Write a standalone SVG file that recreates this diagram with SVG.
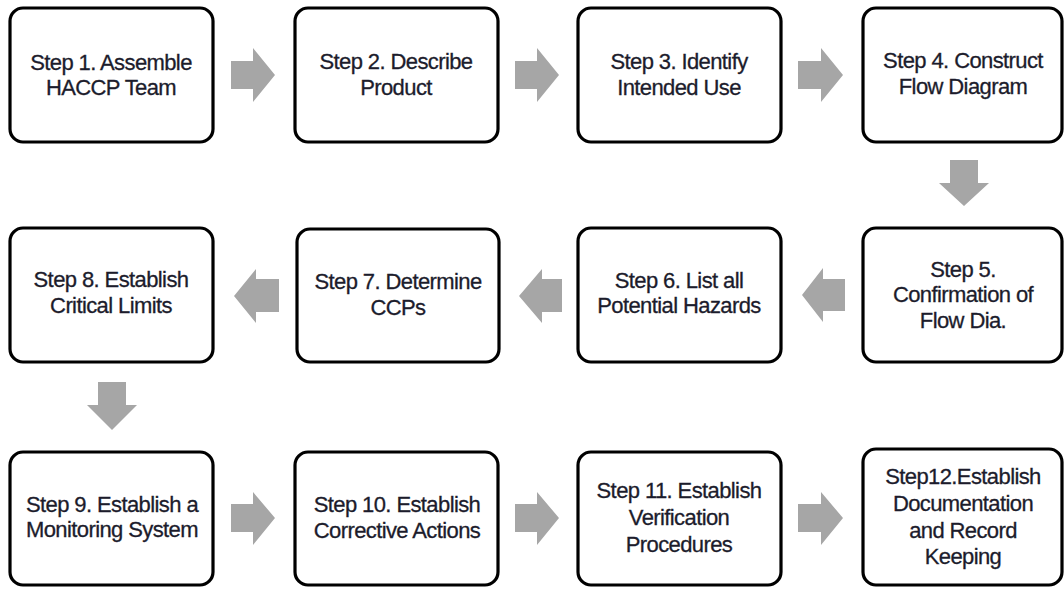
<svg xmlns="http://www.w3.org/2000/svg" width="1064" height="589" viewBox="0 0 1064 589">
<style>
.box{fill:#fff;stroke:#000;stroke-width:3.2}
.lbl{font-family:"Liberation Sans",Arial,sans-serif;font-size:22px;fill:#1c1c2c;stroke:#1c1c2c;stroke-width:0.3;text-anchor:middle;letter-spacing:-0.6px}
.arr{fill:#a6a6a6}
</style>
<rect width="1064" height="589" fill="#fff"/>
<g id="connectors">
<polygon class="arr" points="231,61 253,61 253,48 275,75 253,102 253,89 231,89"/>
<polygon class="arr" points="515,61 537,61 537,48 559,75 537,102 537,89 515,89"/>
<polygon class="arr" points="798,61 821,61 821,48 843,75 821,102 821,89 798,89"/>
<polygon class="arr" points="950,160 978,160 978,183 989,183 964,206 939,183 950,183"/>
<polygon class="arr" points="845,279 823,279 823,268 802,295 823,322 823,311 845,311"/>
<polygon class="arr" points="562,279 542,279 542,269 519,296 542,323 542,312 562,312"/>
<polygon class="arr" points="279,279 256,279 256,269 234,296 256,323 256,312 279,312"/>
<polygon class="arr" points="98,382 126,382 126,405 137,405 112,430 87,405 98,405"/>
<polygon class="arr" points="231,504 253,504 253,492 275,518 253,545 253,532 231,532"/>
<polygon class="arr" points="515,504 537,504 537,492 559,518 537,545 537,532 515,532"/>
<polygon class="arr" points="798,504 821,504 821,492 843,518 821,545 821,532 798,532"/>
</g>
<g id="step1"><rect class="box" x="10" y="8" width="203" height="134" rx="13"/><text class="lbl" x="111" y="70">Step 1. Assemble</text><text class="lbl" x="111" y="95">HACCP Team</text></g>
<g id="step2"><rect class="box" x="295" y="8" width="203" height="134" rx="13"/><text class="lbl" x="396" y="69">Step 2. Describe</text><text class="lbl" x="396" y="95">Product</text></g>
<g id="step3"><rect class="box" x="578" y="8" width="203" height="134" rx="13"/><text class="lbl" x="679" y="69">Step 3. Identify</text><text class="lbl" x="679" y="95">Intended Use</text></g>
<g id="step4"><rect class="box" x="863" y="8" width="199" height="134" rx="13"/><text class="lbl" x="963" y="68">Step 4. Construct</text><text class="lbl" x="963" y="94">Flow Diagram</text></g>
<g id="step5"><rect class="box" x="863" y="228" width="199" height="134" rx="13"/><text class="lbl" x="963" y="277">Step 5.</text><text class="lbl" x="963" y="302">Confirmation of</text><text class="lbl" x="963" y="328">Flow Dia.</text></g>
<g id="step6"><rect class="box" x="578" y="228" width="203" height="134" rx="13"/><text class="lbl" x="679" y="288">Step 6. List all</text><text class="lbl" x="679" y="313">Potential Hazards</text></g>
<g id="step7"><rect class="box" x="297" y="229" width="202" height="133" rx="13"/><text class="lbl" x="398" y="289">Step 7. Determine</text><text class="lbl" x="398" y="315">CCPs</text></g>
<g id="step8"><rect class="box" x="10" y="228" width="203" height="134" rx="13"/><text class="lbl" x="111" y="287">Step 8. Establish</text><text class="lbl" x="111" y="313">Critical Limits</text></g>
<g id="step9"><rect class="box" x="10" y="452" width="203" height="133" rx="13"/><text class="lbl" x="112" y="512">Step 9. Establish a</text><text class="lbl" x="112" y="537">Monitoring System</text></g>
<g id="step10"><rect class="box" x="295" y="452" width="203" height="133" rx="13"/><text class="lbl" x="397" y="512">Step 10. Establish</text><text class="lbl" x="397" y="538">Corrective Actions</text></g>
<g id="step11"><rect class="box" x="578" y="452" width="203" height="133" rx="13"/><text class="lbl" x="679" y="498">Step 11. Establish</text><text class="lbl" x="679" y="525">Verification</text><text class="lbl" x="679" y="552">Procedures</text></g>
<g id="step12"><rect class="box" x="863" y="449" width="199" height="136" rx="13"/><text class="lbl" x="963" y="484">Step12.Establish</text><text class="lbl" x="963" y="511">Documentation</text><text class="lbl" x="963" y="538">and Record</text><text class="lbl" x="963" y="564">Keeping</text></g>
</svg>
